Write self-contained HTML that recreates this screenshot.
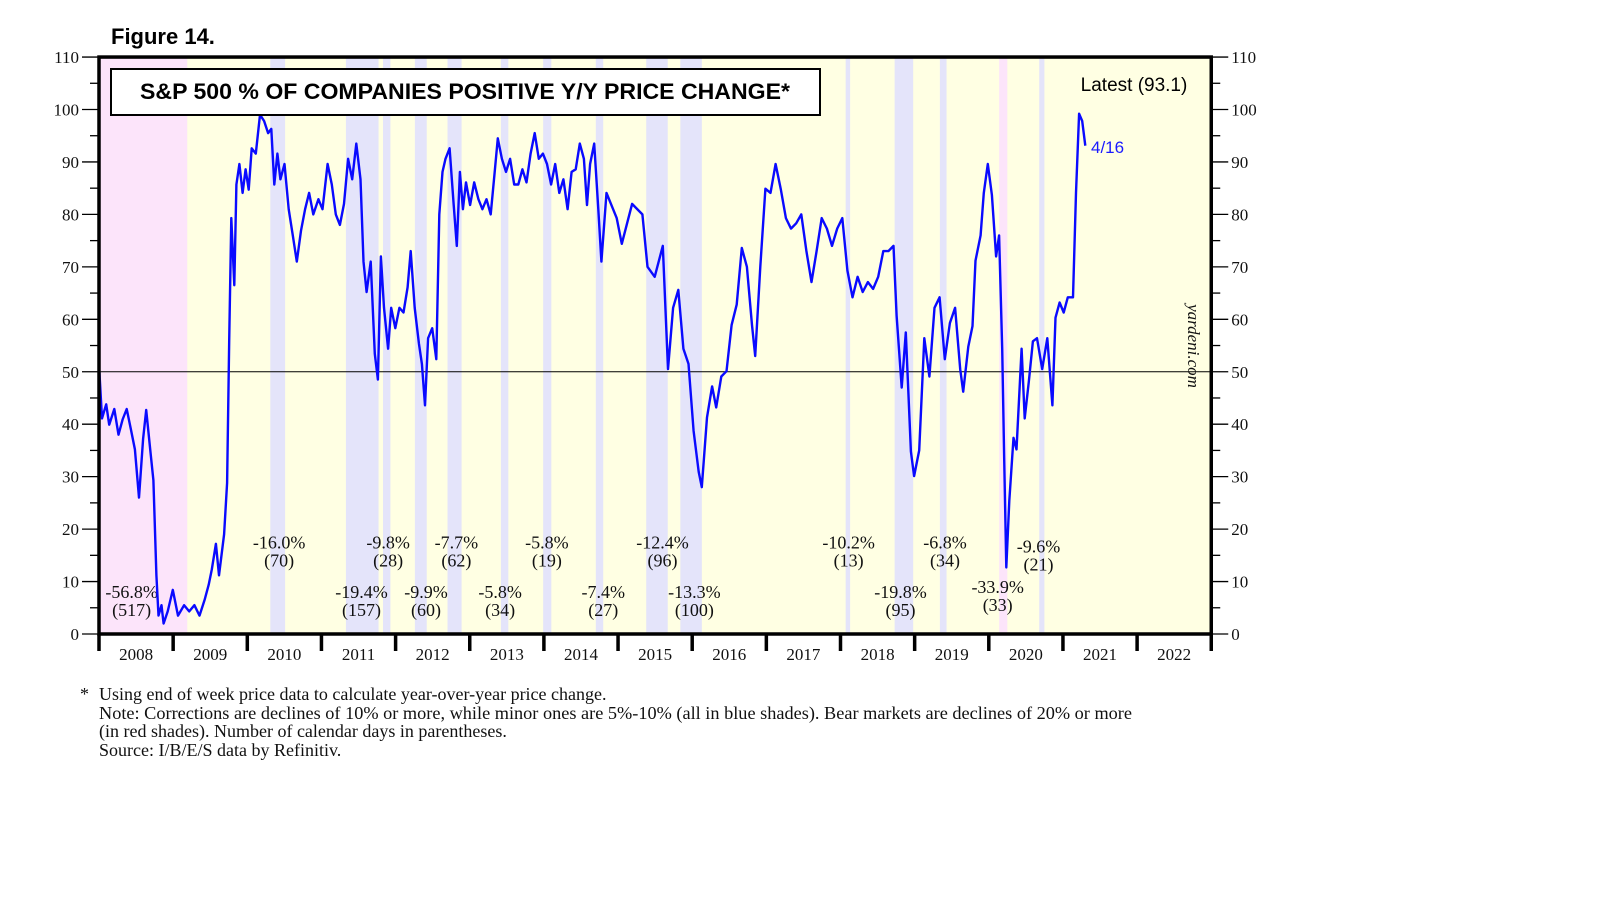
<!DOCTYPE html>
<html><head><meta charset="utf-8"><style>
html,body{margin:0;padding:0;background:#fff;width:1610px;height:910px;overflow:hidden}
svg{display:block}
.s{font-family:"Liberation Serif",serif;fill:#111}
.a{font-family:"Liberation Sans",sans-serif}
</style></head><body>
<svg id="chart" width="1610" height="910" viewBox="0 0 1610 910" xmlns="http://www.w3.org/2000/svg">
<text x="111" y="44" class="a" font-size="22" font-weight="bold">Figure 14.</text>
<g id="plot"></g>
<rect x="111" y="69" width="709" height="46" fill="#fff" stroke="#000" stroke-width="2"/>
<text x="465" y="99" text-anchor="middle" class="a" font-size="22" font-weight="bold" textLength="650" lengthAdjust="spacingAndGlyphs">S&amp;P 500 % OF COMPANIES POSITIVE Y/Y PRICE CHANGE*</text>
<text x="1134" y="91" text-anchor="middle" class="a" font-size="19">Latest (93.1)</text>
<text x="1091" y="153" class="a" font-size="17" fill="#1a1aff">4/16</text>
<text transform="translate(1188,346) rotate(90)" text-anchor="middle" class="s" font-size="17" font-style="italic">yardeni.com</text>
<g class="s" font-size="18">
<text x="80" y="700">*</text>
<text x="99" y="700">Using end of week price data to calculate year-over-year price change.</text>
<text x="99" y="719" textLength="1033" lengthAdjust="spacingAndGlyphs">Note: Corrections are declines of 10% or more, while minor ones are 5%-10% (all in blue shades). Bear markets are declines of 20% or more</text>
<text x="99" y="737">(in red shades). Number of calendar days in parentheses.</text>
<text x="99" y="756">Source: I/B/E/S data by Refinitiv.</text>
</g>
</svg>
<script>
const dates=[2008.00,2008.041,2008.097,2008.138,2008.207,2008.263,2008.318,2008.373,2008.429,2008.484,2008.539,2008.595,2008.636,2008.691,2008.733,2008.774,2008.802,2008.843,2008.871,2008.926,2008.995,2009.065,2009.148,2009.217,2009.286,2009.355,2009.424,2009.479,2009.521,2009.576,2009.618,2009.687,2009.728,2009.756,2009.784,2009.825,2009.853,2009.894,2009.936,2009.977,2010.019,2010.060,2010.115,2010.171,2010.226,2010.281,2010.323,2010.364,2010.406,2010.447,2010.502,2010.558,2010.613,2010.668,2010.724,2010.779,2010.834,2010.890,2010.959,2011.014,2011.083,2011.139,2011.194,2011.249,2011.304,2011.360,2011.415,2011.470,2011.526,2011.567,2011.609,2011.664,2011.719,2011.761,2011.802,2011.844,2011.899,2011.940,2011.996,2012.051,2012.106,2012.162,2012.203,2012.258,2012.314,2012.355,2012.397,2012.438,2012.493,2012.549,2012.590,2012.632,2012.673,2012.728,2012.784,2012.825,2012.867,2012.908,2012.950,2013.005,2013.060,2013.116,2013.171,2013.226,2013.282,2013.337,2013.378,2013.434,2013.489,2013.544,2013.600,2013.655,2013.710,2013.765,2013.821,2013.876,2013.931,2013.987,2014.042,2014.097,2014.153,2014.208,2014.263,2014.319,2014.374,2014.429,2014.484,2014.540,2014.581,2014.623,2014.678,2014.733,2014.775,2014.844,2014.982,2015.051,2015.190,2015.328,2015.397,2015.494,2015.604,2015.673,2015.743,2015.812,2015.881,2015.950,2016.019,2016.088,2016.130,2016.199,2016.268,2016.323,2016.392,2016.462,2016.531,2016.600,2016.669,2016.738,2016.807,2016.849,2016.918,2016.987,2017.056,2017.125,2017.194,2017.263,2017.333,2017.402,2017.471,2017.540,2017.609,2017.678,2017.747,2017.816,2017.885,2017.955,2018.024,2018.093,2018.162,2018.231,2018.300,2018.369,2018.439,2018.508,2018.577,2018.646,2018.715,2018.757,2018.826,2018.881,2018.950,2018.992,2019.061,2019.130,2019.199,2019.268,2019.337,2019.407,2019.476,2019.545,2019.614,2019.655,2019.724,2019.780,2019.821,2019.890,2019.932,2019.987,2020.042,2020.098,2020.139,2020.181,2020.208,2020.236,2020.277,2020.333,2020.374,2020.443,2020.484,2020.540,2020.595,2020.650,2020.720,2020.789,2020.858,2020.900,2020.955,2021.010,2021.066,2021.135,2021.176,2021.218,2021.259,2021.301];
const values=[51.3,41.1,43.8,39.9,42.9,38.0,40.9,42.9,39.1,35.2,26.0,37.2,42.7,35.2,29.3,11.2,3.5,5.5,2.0,4.3,8.4,3.5,5.5,4.3,5.5,3.5,6.5,9.4,12.3,17.2,11.2,19.0,28.8,56.0,79.3,66.5,85.7,89.6,84.1,88.6,84.7,92.6,91.6,99.0,97.8,95.5,96.3,85.7,91.6,86.7,89.6,81.0,76.0,71.0,76.9,81.0,84.1,80.0,82.9,81.0,89.6,85.7,80.0,78.0,82.0,90.6,86.7,93.5,86.7,71.0,65.2,71.0,53.4,48.5,72.0,62.2,54.4,62.2,58.3,62.2,61.3,66.1,73.0,62.2,55.4,51.5,43.6,56.4,58.3,52.4,80.0,88.1,90.6,92.6,81.8,74.0,88.1,81.0,86.1,81.8,86.1,82.9,81.0,82.9,80.0,88.1,94.5,90.6,88.1,90.6,85.7,85.7,88.6,86.1,91.6,95.5,90.6,91.6,89.6,85.7,89.6,84.1,86.7,81.0,88.1,88.6,93.5,90.6,81.8,89.6,93.5,81.0,71.0,84.1,79.3,74.4,82.0,80.0,70.0,68.1,74.0,50.5,62.2,65.6,54.4,51.5,38.7,30.9,28.0,41.3,47.2,43.2,49.1,50.1,58.9,62.8,73.6,70.0,58.9,53.0,70.0,84.9,84.1,89.6,84.9,79.3,77.3,78.3,80.0,73.0,67.1,73.0,79.3,77.3,74.0,77.3,79.3,69.3,64.2,68.1,65.2,67.1,65.8,68.1,73.0,73.0,74.0,60.7,47.0,57.5,34.8,30.1,35.0,56.4,49.1,62.2,64.2,52.4,59.3,62.2,50.5,46.2,54.8,58.7,71.2,76.0,84.1,89.6,83.7,72.0,76.0,54.4,33.3,12.7,25.4,37.4,35.2,54.4,41.1,48.1,55.8,56.4,50.5,56.4,43.6,60.3,63.2,61.3,64.2,64.2,84.1,99.2,97.8,93.1];
const bandStart=[2008.0,2010.31,2011.33,2011.83,2012.26,2012.70,2013.42,2013.99,2014.70,2015.38,2015.84,2018.07,2018.73,2019.34,2020.14,2020.68];
const bandEnd=[2009.19,2010.51,2011.77,2011.93,2012.42,2012.89,2013.52,2014.10,2014.80,2015.67,2016.13,2018.13,2018.98,2019.43,2020.25,2020.75];
const bandType=["bear","corr","corr","corr","corr","corr","corr","corr","corr","corr","corr","corr","corr","corr","bear","corr"];
const annoPct=["-56.8%","-16.0%","-19.4%","-9.8%","-9.9%","-7.7%","-5.8%","-5.8%","-7.4%","-12.4%","-13.3%","-10.2%","-19.8%","-6.8%","-33.9%","-9.6%"];
const annoDays=["(517)","(70)","(157)","(28)","(60)","(62)","(34)","(19)","(27)","(96)","(100)","(13)","(95)","(34)","(33)","(21)"];
const annoYear=[2008.44,2010.43,2011.54,2011.90,2012.41,2012.82,2013.41,2014.04,2014.80,2015.60,2016.03,2018.11,2018.81,2019.41,2020.12,2020.67];
const annoVal=[6.9,16.3,6.9,16.3,6.9,16.3,6.9,16.3,6.9,16.3,6.9,16.3,6.9,16.3,7.8,15.5];
const yTicks=[0,10,20,30,40,50,60,70,80,90,100,110];
const years=[2008,2009,2010,2011,2012,2013,2014,2015,2016,2017,2018,2019,2020,2021,2022];

const NS="http://www.w3.org/2000/svg";
const X0=99,YW=74.15,YB=634,UNIT=5.245;
const X=y=>X0+(y-2008)*YW;
const Y=v=>YB-v*UNIT;
const XR=X(2023),YT=Y(110);
const g=document.getElementById('plot');
function mk(t,a){const e=document.createElementNS(NS,t);for(const k in a)e.setAttribute(k,a[k]);g.appendChild(e);return e;}

const bg=mk('rect',{x:X0,y:YT,width:XR-X0,height:YB-YT,fill:'#ffffe3'});


for(let i=0;i<bandStart.length;i++){
  const r=mk('rect',{x:X(bandStart[i]),y:YT,width:X(bandEnd[i])-X(bandStart[i]),height:YB-YT,fill:bandType[i]==='bear'?'#fce4fa':'#e4e4fa'});
  
  
}
const ml=mk('line',{x1:X0,x2:XR,y1:Y(50),y2:Y(50),stroke:'#000','stroke-width':1});


for(let i=0;i<annoPct.length;i++){
  const t1=mk('text',{x:X(annoYear[i]),y:Y(annoVal[i]),'text-anchor':'middle','class':'s','font-size':18});
  t1.textContent=annoPct[i];
  
  
  const t2=mk('text',{x:X(annoYear[i]),y:Y(annoVal[i])+18,'text-anchor':'middle','class':'s','font-size':18});
  t2.textContent=annoDays[i];
  
  
}
let d='';
for(let i=0;i<dates.length;i++)d+=(i?'L':'M')+X(dates[i]).toFixed(1)+' '+Y(values[i]).toFixed(1);
const ln=mk('path',{d:d,fill:'none',stroke:'#0a0aff','stroke-width':2.4,'stroke-linejoin':'round'});


const fr=mk('rect',{x:X0,y:YT,width:XR-X0,height:YB-YT,fill:'none',stroke:'#000','stroke-width':3.5});


for(let v=0;v<=110;v+=5){
  const big=v%10===0;
  const tl=mk('line',{x1:X0-(big?17:9),x2:X0,y1:Y(v),y2:Y(v),stroke:'#000','stroke-width':1.3});
  
  
  const tr=mk('line',{x1:XR,x2:XR+(big?17:9),y1:Y(v),y2:Y(v),stroke:'#000','stroke-width':1.3});
  
  
}
yTicks.forEach(v=>{
  const a=mk('text',{x:X0-20,y:Y(v)+6,'text-anchor':'end','class':'s','font-size':17});
  a.textContent=v;
  
  
  const b=mk('text',{x:XR+20,y:Y(v)+6,'class':'s','font-size':17});
  b.textContent=v;
  
  
});
years.concat([2023]).forEach(y=>{
  const t=mk('line',{x1:X(y),x2:X(y),y1:YB,y2:YB+17,stroke:'#000','stroke-width':3.5});
  
  
});
years.forEach(y=>{
  const t=mk('text',{x:X(y+0.5),y:YB+26,'text-anchor':'middle','class':'s','font-size':17});
  t.textContent=y;
  
  
});
</script>
</body></html>
